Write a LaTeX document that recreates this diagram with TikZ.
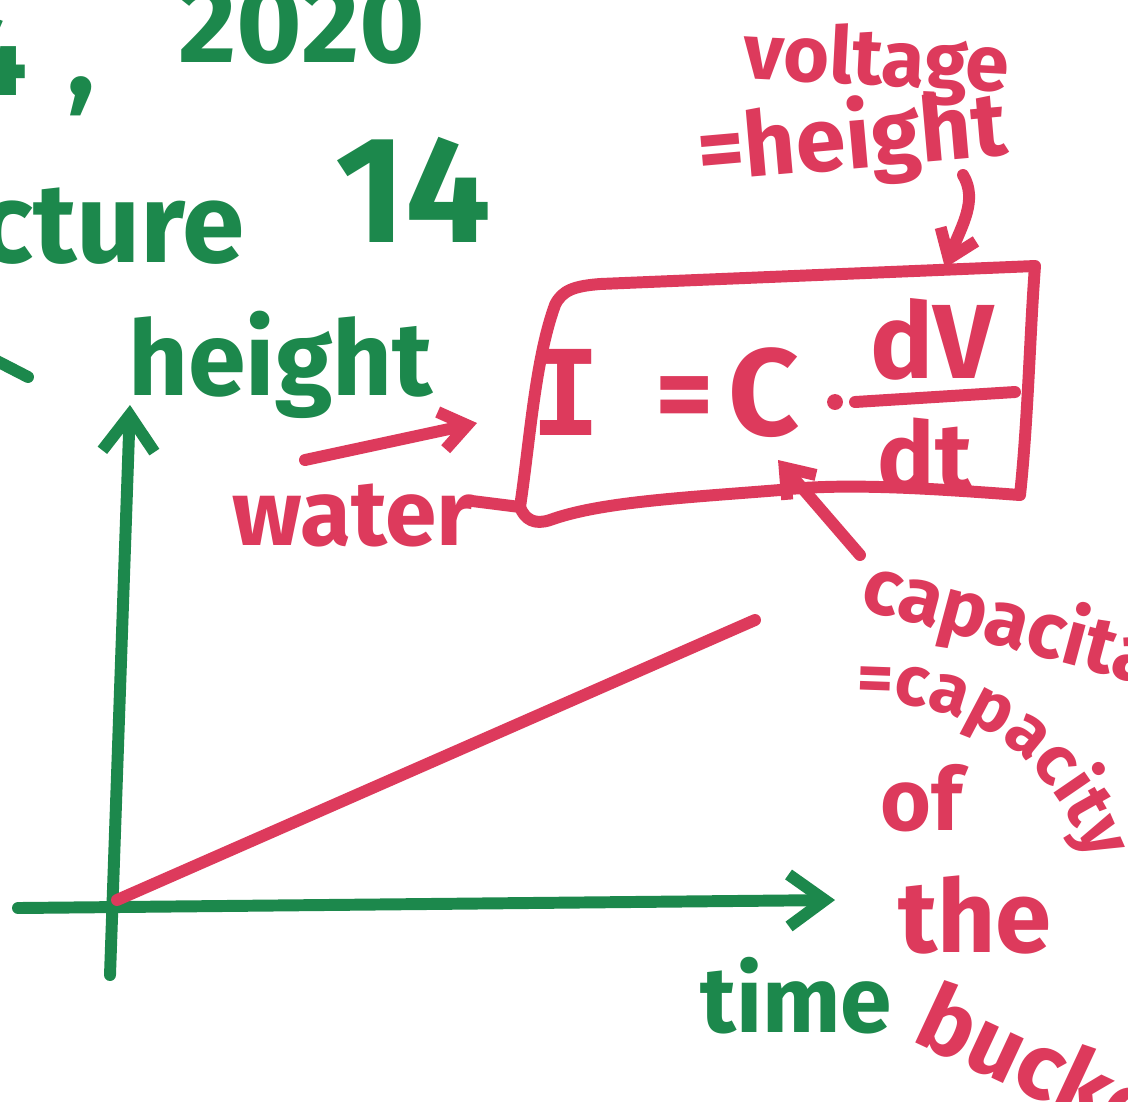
\documentclass[tikz,border=0pt]{standalone}
\usepackage{fontspec}
\setmainfont{Fira Sans}
\newfontfamily\slabfont{DejaVu Sans Mono}
\usetikzlibrary{arrows.meta,positioning,calc,decorations.text}
\definecolor{inkgreen}{RGB}{28,136,76}
\definecolor{inkred}{RGB}{221,58,92}
\newcommand{\penfont}[1]{\fontsize{#1}{#1}\selectfont\bfseries}

\begin{document}
\begin{tikzpicture}[x=0.025cm, y=-0.025cm,
    pen/.style={line width=8.5pt, line cap=round, line join=round},
    grn/.style={pen, draw=inkgreen},
    rd/.style={pen, draw=inkred},
    arr/.style={-{Straight Barb[length=9mm, width=13mm]}},
    arrs/.style={-{Straight Barb[length=6.5mm, width=9.5mm]}},
    gtxt/.style={inner sep=0pt, text=inkgreen, anchor=base west},
    rtxt/.style={inner sep=0pt, text=inkred, anchor=base west}
]
\path[use as bounding box] (0,0) rectangle (1128,1101);
\clip (0,0) rectangle (1128,1101);
\fill[white] (0,0) rectangle (1128,1101);

% header in green
\node[gtxt, font=\penfont{82}] (day) at (-38,95) {4\hspace{0.35em},};
\node[gtxt, font=\penfont{80}] (year) at (178,62) {2020};
\node[gtxt, font=\penfont{80}, anchor=base east] (lecture) at (245,262) {Lecture};
\node[gtxt, font=\penfont{108}] (num) at (335,242) {14};
\draw[grn] (-5,360) -- (28,377);

% axes
\coordinate (origin) at (117,900);
\coordinate (ybot) at (110,975);
\coordinate (ytop) at (130,405);
\coordinate (xleft) at (18,908);
\coordinate (xright) at (835,900);
\draw[grn, arr] (ybot) -- (ytop);
\draw[grn, arr] (xleft) -- (xright);
\node[gtxt, font=\penfont{74}] (height) at (128,395) {height};
\node[gtxt, font=\penfont{66}] (time) at (700,1032) {time};

% water level line
\coordinate (lineend) at (755,620);
\draw[rd] (origin) -- (lineend);

% boxed equation
\node[rtxt, font=\slabfont\penfont{84}] (eqI) at (530,435) {I};
\node[rtxt, font=\penfont{80}] (eqeq) at (655,432) {=};
\node[rtxt, font=\penfont{88}] (eqC) at (728,435) {C};
\node[circle, fill=inkred, inner sep=4pt] (cdot) at (835,402) {};
\node[rtxt, font=\penfont{75}, anchor=base] (dv) at (932,378) {dV};
\node[rtxt, font=\penfont{68}, anchor=base] (dt) at (925,490) {dt};
\draw[rd] (855,402) -- (1015,392);
\draw[rd] (520,507) .. controls (530,440) and (535,360) .. (555,305)
  .. controls (562,290) and (575,286) .. (600,284)
  -- (1035,266)
  .. controls (1030,330) and (1028,420) .. (1020,495)
  .. controls (950,490) and (850,482) .. (780,490)
  .. controls (680,498) and (600,502) .. (550,520)
  .. controls (535,525) and (525,520) .. (520,507);
\coordinate (boxleft) at (520,507);
\coordinate (boxtop) at (945,268);
\coordinate (ctip) at (778,460);

% water
\node[rtxt, font=\penfont{66}] (water) at (232,545) {water};
\draw[rd] ([xshift=-2pt,yshift=10pt]water.east) -- (boxleft);
\coordinate (wtail) at (305,460);
\coordinate (wtip) at (477,423);
\draw[rd, arrs] (wtail) -- (wtip);

% voltage = height
\node[rtxt, font=\penfont{56}, rotate=-3] (voltage) at (742,78) {voltage};
\node[rtxt, font=\penfont{64}, rotate=5] (heighteq) at (700,182) {=height};
\coordinate (vtail) at (963,175);
\draw[rd, arrs] (vtail) .. controls (978,200) and (962,225) .. (boxtop);

% capacitance = capacity of the bucket
\node[rtxt, font=\penfont{56}, rotate=-15] (capac) at (858,608) {capacitance};
\coordinate (ctail) at (860,555);
\draw[rd, arrs] (ctail) -- (ctip);
\path[decorate, decoration={text along path, text align=left, text color=inkred,
    text={|\penfont{50}|=capacity}}]
  (856,702) .. controls (980,700) and (1090,760) .. (1118,980);
\node[rtxt, font=\penfont{62}] (of) at (880,830) {of};
\node[rtxt, font=\penfont{72}] (the) at (898,952) {the};
\node[rtxt, font=\penfont{66}, rotate=-25] (bucket) at (910,1040) {bucket};
\end{tikzpicture}
\end{document}
